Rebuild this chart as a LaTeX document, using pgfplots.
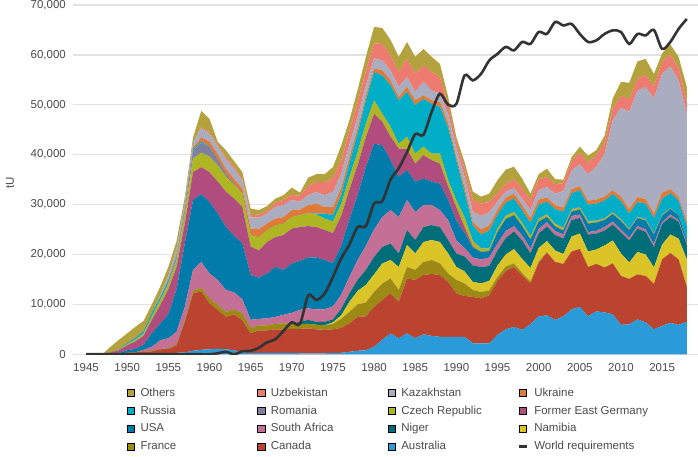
\documentclass[border=0pt]{standalone}
\usepackage{pgfplots}
\pgfplotsset{compat=1.18}
\usepackage{pgfplotstable}
\usepackage{fontspec}
\setmainfont{Liberation Sans}

\definecolor{cAus}{HTML}{2A9BD8}
\definecolor{cCan}{HTML}{BA4430}
\definecolor{cFra}{HTML}{9D8A14}
\definecolor{cNam}{HTML}{DBC428}
\definecolor{cNig}{HTML}{006E78}
\definecolor{cSA}{HTML}{C47096}
\definecolor{cUSA}{HTML}{007BAA}
\definecolor{cEG}{HTML}{B04C7E}
\definecolor{cCze}{HTML}{AEB623}
\definecolor{cRom}{HTML}{7F7FA0}
\definecolor{cRus}{HTML}{00AEC7}
\definecolor{cUkr}{HTML}{DF7A38}
\definecolor{cKaz}{HTML}{AAACC0}
\definecolor{cUzb}{HTML}{EE7B70}
\definecolor{cOth}{HTML}{B3A23E}
\definecolor{cReq}{HTML}{333333}
\definecolor{gridgrey}{HTML}{E2E2E2}
\definecolor{textgrey}{HTML}{4A4A4A}

\pgfplotstableread{
yr aus can fra nam nig sa usa eg cze rom rus ukr kaz uzb oth req
1945 0 0 0 0 0 0 0 0 0 0 0 0 0 0 0 0
1946 0 0 0 0 0 0 0 0 0 0 0 0 0 0 0 0
1947 0 0 0 0 0 0 0 0 0 0 0 0 0 0 0 0
1948 0 50 0 0 0 0 100 200 0 0 0 0 0 0 1200 0
1949 0 100 0 0 0 0 200 500 100 0 100 0 0 0 1900 0
1950 0 300 0 0 0 0 500 1000 200 0 200 0 0 0 2000 0
1951 0 400 0 0 0 0 700 1500 300 100 300 0 0 0 2200 0
1952 100 500 100 0 0 200 1000 1800 400 100 400 0 0 0 2100 0
1953 100 500 100 0 0 800 2700 2700 700 0 700 0 0 0 1700 0
1954 100 900 100 0 0 1700 3300 3700 1000 0 600 0 400 0 1700 0
1955 200 900 100 0 0 2000 4800 5000 1000 300 500 300 700 0 1700 0
1956 300 1500 200 0 0 2500 8500 4500 1300 500 400 500 1000 0 1500 0
1957 400 6100 300 0 0 2700 12700 4000 2000 800 200 500 900 0 900 0
1958 700 11500 500 0 0 4200 14000 5600 2700 1500 300 400 1000 0 1000 0
1959 900 11700 700 0 0 5200 13600 5400 2900 2000 300 800 1800 200 3300 0
1960 1000 9200 1000 0 0 5000 14300 6000 3100 2000 0 1000 1600 300 2700 0
1961 1100 7800 1000 0 0 5000 13300 6400 3300 1200 0 1000 1500 300 700 200
1962 1000 6500 1000 0 0 4400 12600 7100 3000 500 0 1000 2000 400 1400 500
1963 800 7200 1000 0 0 3400 11300 7500 2800 200 0 900 2000 400 1200 0
1964 400 6400 1300 0 0 2900 11200 7300 2700 0 0 1000 1600 400 1300 600
1965 200 4000 1000 0 0 1700 9000 5700 2300 0 0 1300 2200 500 1300 700
1966 300 4500 1000 0 0 1300 8300 5400 2600 0 0 1700 2300 600 900 1300
1967 300 4500 1000 0 0 1400 9000 6300 2400 0 0 1300 2000 500 1000 2400
1968 300 4700 1100 0 0 1400 10000 6000 2300 0 0 1400 2300 800 900 3000
1969 300 4700 1200 0 0 1700 9000 7000 2300 0 0 1300 2400 1100 900 4700
1970 300 4800 1100 0 0 2100 9900 7000 2300 0 0 1400 2000 1000 1500 6400
1971 200 4900 900 0 500 2400 9800 6800 2400 0 0 1100 1600 1200 600 6100
1972 200 5000 900 0 800 2300 10200 6300 2600 0 0 1600 2000 1800 1700 11800
1973 200 4800 900 0 600 2500 10400 6100 2500 0 200 2000 2300 2000 1600 10900
1974 200 4700 900 0 700 2500 9900 6000 2300 0 1000 1300 2400 2600 1600 12200
1975 300 4700 1100 300 600 2600 8700 6000 2300 0 1300 1600 3000 2800 2200 15500
1976 300 5000 1800 700 1300 2800 9800 6000 2400 0 1800 1400 2800 2700 3000 19200
1977 500 5700 2300 2000 1700 3300 11500 6000 2500 0 2800 1200 2500 2800 2100 22000
1978 700 6800 2500 2700 2200 4000 13000 6000 2600 0 3800 1000 2300 2900 2500 25500
1979 800 6800 2800 3500 3000 4800 15800 6000 2700 0 4700 800 2100 3000 2800 25700
1980 1500 8000 3000 3500 3500 5500 17200 6000 2700 0 5700 700 2000 3000 3300 30200
1981 2900 8000 3300 4000 3300 6000 14400 4700 1600 0 7700 1000 2000 3300 3200 30700
1982 4200 8000 3000 3700 3300 6700 10000 4700 2000 0 8300 1000 2000 3000 3100 35000
1983 3200 7300 2400 4600 2700 7300 8100 5600 1000 0 8700 700 2000 3000 3000 37300
1984 4200 11000 2300 4400 3000 6000 6000 4300 2400 0 9000 1000 2000 3600 3400 40500
1985 3200 11700 2000 3300 2700 5600 6100 3600 2000 0 9700 1000 1700 3600 3400 44100
1986 4000 11900 2600 4000 3000 4400 5300 4700 1700 0 9600 700 2700 3300 3300 44000
1987 3700 12400 2800 4000 3000 4000 4700 4300 1300 0 10000 700 2000 3700 3000 48600
1988 3500 12400 2300 4300 3000 3400 5300 4000 2000 0 9400 1000 1600 3400 2600 52200
1989 3500 11000 1700 4000 2700 4000 4000 2700 1300 0 10500 900 1800 2000 1500 50000
1990 3500 8700 2700 2600 2700 2600 4000 2700 1300 0 8000 700 1700 1300 1000 50200
1991 3500 8200 2500 2400 3000 1700 3000 1200 1900 100 5000 1000 2000 1800 1200 55900
1992 2200 9300 1400 1600 3300 1600 2000 200 1000 200 3000 700 2000 2400 1700 54900
1993 2200 9000 1300 1700 3300 1500 1500 0 700 100 2700 1000 2700 2500 1400 56200
1994 2200 9600 1000 1900 3000 1700 1300 0 500 100 3500 1000 2700 2000 1700 58900
1995 3900 10800 800 2300 3000 1400 2300 0 600 100 2800 1000 1600 1700 2600 60200
1996 5000 11700 900 2400 3300 1400 2400 0 600 100 2600 1000 1200 1500 2900 61600
1997 5500 12000 700 2900 3500 1100 2200 0 600 100 2600 1000 1100 1800 2500 60900
1998 4900 10900 500 2800 3700 1000 1900 0 600 100 2500 1000 1300 1900 2100 62600
1999 6000 8200 400 2700 2900 1000 1800 0 600 100 2600 1000 1600 2100 1200 62200
2000 7600 10700 300 2700 2900 900 1500 0 500 100 2800 1000 1900 2200 1000 64600
2001 7800 12500 200 2200 2900 900 1000 0 500 100 2500 800 2100 2000 1700 64200
2002 6900 11600 0 2300 3100 800 900 0 500 100 2900 800 2300 1900 1000 66600
2003 7600 10500 0 2000 3100 800 800 0 500 100 3200 800 3300 1600 700 65900
2004 9000 11600 0 3000 3300 800 900 0 400 100 3200 800 3700 2000 700 66200
2005 9500 11600 0 3100 3100 700 1000 0 400 100 3400 800 4400 2300 1200 64200
2006 7600 9900 0 3100 3400 500 1700 0 400 100 3300 800 5300 2300 1400 62600
2007 8600 9500 0 2900 3200 500 1700 0 300 100 3400 800 6600 2300 1000 62900
2008 8400 9000 0 4400 3000 700 1400 0 300 100 3500 800 8500 2300 1400 64200
2009 8000 10200 0 4600 3200 600 1500 0 300 100 3600 800 14000 2400 2000 64900
2010 5900 9800 0 4500 4200 600 1700 0 300 100 3600 900 17800 2400 2800 64600
2011 6000 9100 0 3300 4400 600 1500 0 200 100 3000 900 19500 2500 3300 62200
2012 7000 9000 0 4500 4700 500 1600 0 200 100 2900 1000 21300 2400 3500 64200
2013 6400 9300 0 4300 4500 500 1800 0 200 100 3100 900 22500 2400 3200 63900
2014 5000 9100 0 3300 4100 600 1900 0 200 100 3000 900 23100 2400 2500 65000
2015 5700 13300 0 3000 4100 400 1300 0 200 100 3100 1200 23800 2400 1700 61200
2016 6300 14000 0 3700 3500 500 1100 0 100 100 3000 800 24600 2400 2000 62600
2017 5900 13100 0 4200 3400 300 900 0 0 100 2900 700 23400 2400 2300 65200
2018 6500 7000 0 5500 2900 300 600 0 0 100 2900 800 21700 2400 2900 67200
}\data

\pgfplotsset{
  commonaxis/.style={
    scale only axis, width=625.3pt, height=349.3pt,
    at={(72.7pt,102.7pt)}, anchor=south west,
    xmin=1943.38, xmax=2019.36, ymin=0, ymax=70000,
  }
}
\newcommand{\legtxt}[1]{\makebox[100pt][l]{#1\vphantom{Ag}}}

\begin{document}
\begin{tikzpicture}
\path[use as bounding box] (0,0) rectangle (698pt,457pt);
\begin{axis}[commonaxis,
  stack plots=y,
  axis line style={draw=none},
  tick style={draw=none},
  major tick length=0pt,
  ymajorgrids, grid style={color=gridgrey, line width=1.3pt},
  xtick={1945,1950,...,2015},
  ytick={0,10000,...,70000},
  scaled y ticks=false,
  ticklabel style={font=\fontsize{11.5}{13}\selectfont, text=textgrey},
  x tick label style={/pgf/number format/1000 sep={}, /pgf/number format/assume math mode=true, inner sep=0pt, anchor=north, yshift=-9pt},
  y tick label style={/pgf/number format/1000 sep={,}, /pgf/number format/fixed, /pgf/number format/assume math mode=true, inner sep=0pt, anchor=east, xshift=-6.7pt},
  ylabel={tU},
  ylabel style={at={(axis description cs:-0.1003,0.49)}, anchor=center, inner sep=0pt, font=\fontsize{11.5}{13}\selectfont, text=textgrey},
]
\addplot[fill=cAus, draw=none] table[x=yr, y=aus]{\data} \closedcycle;
\addplot[fill=cCan, draw=none] table[x=yr, y=can]{\data} \closedcycle;
\addplot[fill=cFra, draw=none] table[x=yr, y=fra]{\data} \closedcycle;
\addplot[fill=cNam, draw=none] table[x=yr, y=nam]{\data} \closedcycle;
\addplot[fill=cNig, draw=none] table[x=yr, y=nig]{\data} \closedcycle;
\addplot[fill=cSA, draw=none] table[x=yr, y=sa]{\data} \closedcycle;
\addplot[fill=cUSA, draw=none] table[x=yr, y=usa]{\data} \closedcycle;
\addplot[fill=cEG, draw=none] table[x=yr, y=eg]{\data} \closedcycle;
\addplot[fill=cCze, draw=none] table[x=yr, y=cze]{\data} \closedcycle;
\addplot[fill=cRom, draw=none] table[x=yr, y=rom]{\data} \closedcycle;
\addplot[fill=cRus, draw=none] table[x=yr, y=rus]{\data} \closedcycle;
\addplot[fill=cUkr, draw=none] table[x=yr, y=ukr]{\data} \closedcycle;
\addplot[fill=cKaz, draw=none] table[x=yr, y=kaz]{\data} \closedcycle;
\addplot[fill=cUzb, draw=none] table[x=yr, y=uzb]{\data} \closedcycle;
\addplot[fill=cOth, draw=none] table[x=yr, y=oth]{\data} \closedcycle;
\end{axis}

\begin{axis}[commonaxis, hide axis,
  legend columns=4,
  legend image code/.code={\fill[#1] (0pt,-3.7pt) rectangle (7.4pt,3.7pt);},
  legend style={at={(0,0)}, anchor=north west, xshift=54pt, yshift=-33.7pt,
    draw=none, fill=none, inner sep=0pt, outer sep=0pt, row sep=8pt,
    font=\fontsize{11.5}{13}\selectfont, text=textgrey,
    nodes={inner sep=0pt},
    /tikz/every odd column/.append style={column sep=6pt},
    /tikz/every even column/.append style={column sep=16.6pt}},
]
\addlegendimage{fill=cOth}\addlegendentry{\legtxt{Others}}
\addlegendimage{fill=cUzb}\addlegendentry{\legtxt{Uzbekistan}}
\addlegendimage{fill=cKaz}\addlegendentry{\legtxt{Kazakhstan}}
\addlegendimage{fill=cUkr}\addlegendentry{\legtxt{Ukraine}}
\addlegendimage{fill=cRus}\addlegendentry{\legtxt{Russia}}
\addlegendimage{fill=cRom}\addlegendentry{\legtxt{Romania}}
\addlegendimage{fill=cCze}\addlegendentry{\legtxt{Czech Republic}}
\addlegendimage{fill=cEG}\addlegendentry{\legtxt{Former East Germany}}
\addlegendimage{fill=cUSA}\addlegendentry{\legtxt{USA}}
\addlegendimage{fill=cSA}\addlegendentry{\legtxt{South Africa}}
\addlegendimage{fill=cNig}\addlegendentry{\legtxt{Niger}}
\addlegendimage{fill=cNam}\addlegendentry{\legtxt{Namibia}}
\addlegendimage{fill=cFra}\addlegendentry{\legtxt{France}}
\addlegendimage{fill=cCan}\addlegendentry{\legtxt{Canada}}
\addlegendimage{fill=cAus}\addlegendentry{\legtxt{Australia}}
\addlegendimage{legend image code/.code={\draw[cReq, line width=2.4pt] (0pt,0pt) -- (8pt,0pt);}}\addlegendentry{\legtxt{World requirements}}
\addplot[cReq, line width=2.6pt, smooth, tension=0.5, forget plot] table[x=yr, y=req]{\data};
\end{axis}
\end{tikzpicture}
\end{document}
